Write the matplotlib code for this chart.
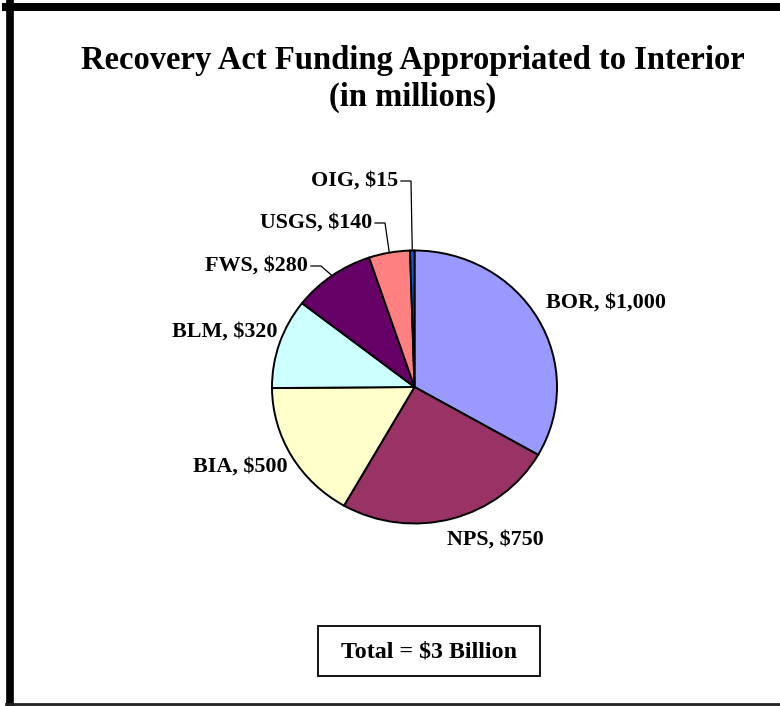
import matplotlib
matplotlib.use('Agg')
import numpy as np
import matplotlib.pyplot as plt
from matplotlib.lines import Line2D
from matplotlib.patches import Rectangle

# Dados (em milhões de dólares)
agencies = ['BOR', 'NPS', 'BIA', 'BLM', 'FWS', 'USGS', 'OIG']
funding = [1000, 750, 500, 320, 280, 140, 15]
labels = ['BOR, $1,000', 'NPS, $750', 'BIA, $500', 'BLM, $320', 'FWS, $280', 'USGS, $140', 'OIG, $15']
colors = ['#9999FF', '#993366', '#FFFFCC', '#CCFFFF', '#660066', '#FF8080', '#0066CC']

plt.rcParams['font.family'] = ['Liberation Serif', 'DejaVu Serif']

W, H = 780, 706
fig = plt.figure(figsize=(W / 100, H / 100), dpi=100)


def fx(x):
    return x / W


def fy(y):
    return 1 - y / H


# Moldura do gráfico
fig.add_artist(Line2D([fx(6), fx(780)], [fy(7), fy(7)], color='black', lw=5.8))
fig.add_artist(Line2D([fx(10), fx(10)], [fy(3), fy(706)], color='black', lw=5.5))
fig.add_artist(Line2D([fx(6), fx(780)], [fy(703.5), fy(703.5)], color='#222222', lw=2.0))

# Título
fig.text(fx(413), fy(60), 'Recovery Act Funding Appropriated to Interior',
         ha='center', va='center', fontsize=23.5, fontweight='bold')
fig.text(fx(413), fy(97), '(in millions)',
         ha='center', va='center', fontsize=23.5, fontweight='bold')

# Pizza (levemente elíptica como no original)
cx, cy, rx, ry = 414.5, 387, 142.5, 136.5
ax = fig.add_axes([fx(cx - rx), fy(cy + ry), 2 * rx / W, 2 * ry / H])
wedges, _ = ax.pie(funding, colors=colors, startangle=90, counterclock=False,
                   wedgeprops=dict(edgecolor='black', linewidth=1.4))
ax.set_xlim(-1, 1)
ax.set_ylim(-1, 1)
ax.set_aspect('auto')
ax.axis('off')

# Rótulos
label_pos = {
    'BOR': (546, 303, 'left'),
    'NPS': (447, 540, 'left'),
    'BIA': (193, 467, 'left'),
    'BLM': (172, 332, 'left'),
    'FWS': (308, 266, 'right'),
    'USGS': (372, 223, 'right'),
    'OIG': (398, 181, 'right'),
}
fig.canvas.draw()
for name, lab, w in zip(agencies, labels, wedges):
    x, y, ha = label_pos[name]
    fig.text(fx(x), fy(y), lab, ha=ha, va='center', fontsize=15.8, fontweight='bold')
    if ha == 'right':
        # linha de chamada até o meio da fatia
        ang = np.deg2rad((w.theta1 + w.theta2) / 2)
        px, py = ax.transData.transform((np.cos(ang), np.sin(ang)))
        fig.add_artist(Line2D([fx(x + 3), fx(x + 13), px / W], [fy(y), fy(y), py / H],
                              color='black', lw=0.9))

# Caixa do total
fig.add_artist(Rectangle((fx(318), fy(676)), (540 - 318) / W, 50 / H,
                         fill=False, edgecolor='black', lw=1.3))
fig.text(fx(429), fy(652), 'Total = $3 Billion', ha='center', va='center',
         fontsize=17.3, fontweight='bold')

fig.savefig('out.png', dpi=100)
